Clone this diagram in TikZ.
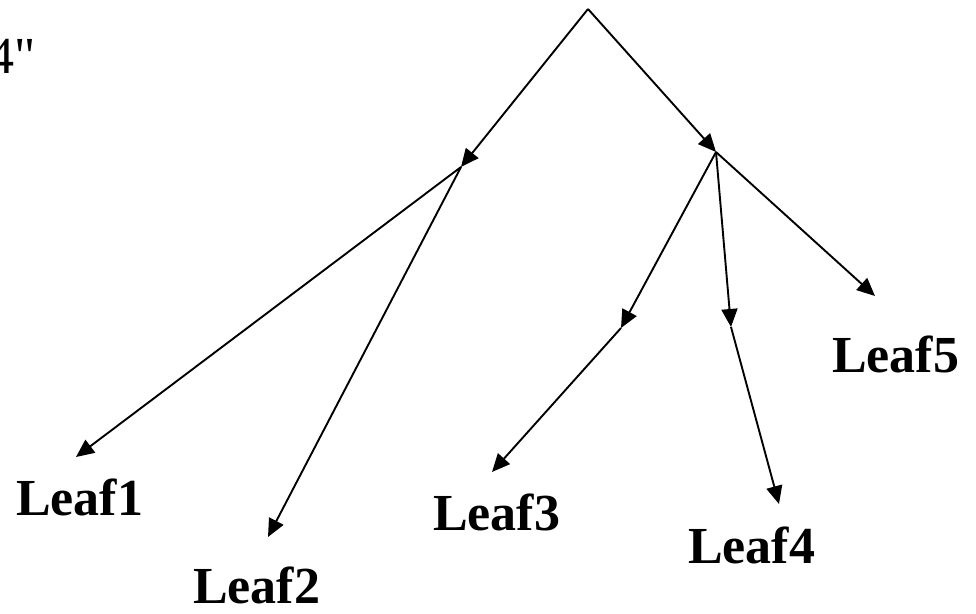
\documentclass[tikz,border=0pt]{standalone}
\usepackage{fontspec}
\setmainfont{Liberation Serif}
\newfontfamily\qfont{Liberation Serif}
\usetikzlibrary{arrows.meta}
\begin{document}
\begin{tikzpicture}[x=1pt,y=-1pt,
  edge/.style={line width=1.9pt,-{Triangle[length=18pt,width=16pt]}},
  leaf/.style={anchor=base west,inner sep=0pt,font=\fontsize{52}{60}\selectfont\bfseries},
  lbl/.style={anchor=base east,inner sep=0pt,font=\qfont\fontsize{52}{60}\selectfont}]
\clip (0,0) rectangle (976,613);
\useasboundingbox (0,0) rectangle (976,613);
\coordinate (root) at (588,9);
\coordinate (L) at (461,167);
\coordinate (R) at (716,152);
\coordinate (M3) at (621,328);
\coordinate (M4) at (731,327);
\coordinate (t1) at (76,457);
\coordinate (t2) at (268,537);
\coordinate (t3) at (492,472);
\coordinate (t4) at (779,504);
\coordinate (t5) at (875,296);
\node[lbl] (q) at (36,73) {4"};
\node[leaf] (leaf1) at (16,515) {Leaf1};
\node[leaf] (leaf2) at (193,603) {Leaf2};
\node[leaf] (leaf3) at (433,530) {Leaf3};
\node[leaf] (leaf4) at (688,563) {Leaf4};
\node[leaf] (leaf5) at (832,372) {Leaf5};
\draw[edge] (root) -- (L);
\draw[edge] (root) -- (R);
\draw[edge] (L) -- (t1);
\draw[edge] (L) -- (t2);
\draw[edge] (R) -- (M3);
\draw[edge] (M3) -- (t3);
\draw[edge] (R) -- (M4);
\draw[edge] (M4) -- (t4);
\draw[edge] (R) -- (t5);
\end{tikzpicture}
\end{document}
